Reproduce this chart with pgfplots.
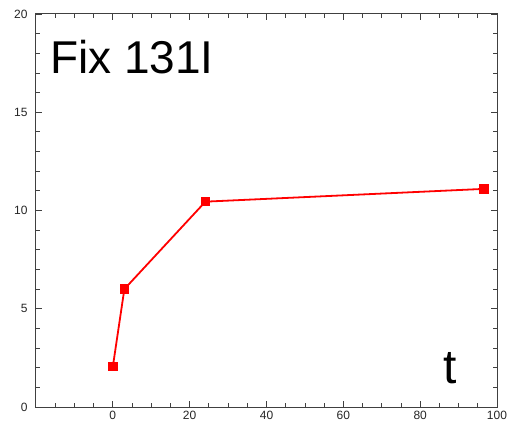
\documentclass[border=0pt]{standalone}
\usepackage{fontspec}
\setmainfont{Liberation Sans}
\usepackage{pgfplots}
\pgfplotsset{compat=1.18}
\definecolor{axisgray}{HTML}{404040}

\begin{document}
\begin{tikzpicture}[x=1pt,y=1pt]
\useasboundingbox (-36,-27) rectangle (474,407);
\begin{axis}[
  at={(0,0)}, anchor=south west,
  scale only axis, width=461pt, height=393pt,
  xmin=-20, xmax=100, ymin=0, ymax=20,
  xtick={0,20,40,60,80,100},
  minor xtick={-15,-10,-5,5,10,15,25,30,35,45,50,55,65,70,75,85,90,95},
  ytick={0,5,10,15,20},
  minor ytick={1,2,3,4,6,7,8,9,11,12,13,14,16,17,18,19},
  tick align=inside, ticks=both,
  major tick length=6pt, minor tick length=4pt,
  tick style={axisgray, line width=0.8pt},
  axis line style={axisgray, line width=1pt},
  tick label style={font=\fontsize{12}{12}\selectfont, text=black!85},
  /pgf/number format/assume math mode=true,
  yticklabel style={xshift=-5pt},
  xticklabel style={yshift=-1pt},
]
\addplot[red, line width=1.8pt, mark=square*, mark size=3.8pt,
  mark options={solid, fill=red, draw=red}] coordinates
  {(0,2.05) (3.0,6.0) (24.1,10.45) (96.6,11.1)};
\node[anchor=base west, inner sep=0pt, font=\fontsize{46}{46}\selectfont]
  at (axis cs:-16.4,16.95) {Fix 131I};
\node[anchor=base west, inner sep=0pt, font=\fontsize{48}{48}\selectfont]
  at (axis cs:86.0,1.2) {t};
\end{axis}
\end{tikzpicture}
\end{document}
